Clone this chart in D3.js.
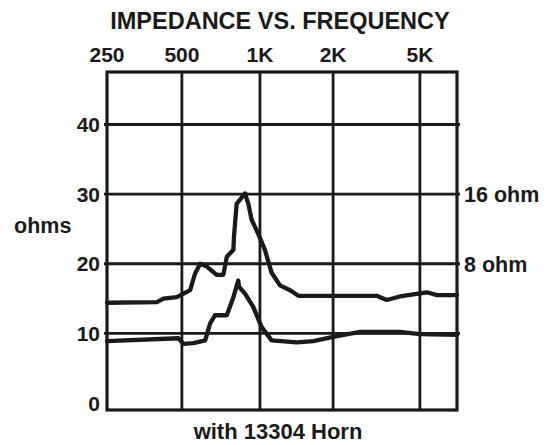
<!DOCTYPE html>
<html lang="en">
<head>
    <meta charset="UTF-8">
    <title>Impedance vs. Frequency</title>
    <script src="https://d3js.org/d3.v7.min.js"></script>
    <style>
        body { margin: 0; background: #fff; }
        text { font-family: "Liberation Sans", Arial, sans-serif; font-weight: bold; fill: #1a1a1a; }
    </style>
</head>
<body>
    <script>
        // frequency ticks along the top
        const freqTicks = [250, 500, 1000, 2000, 5000];
        const freqLabels = ["250", "500", "1K", "2K", "5K"];
        const ohmTicks = [0, 10, 20, 30, 40];

        // 16 ohm curve (Hz, ohms)
        const freq16 = [250, 397, 421, 477, 538, 562, 588, 624, 681, 722, 745, 790, 794, 813, 876, 902, 929, 985, 1048, 1117, 1209, 1330, 1439, 3169, 3521, 4050, 5360, 5963, 7300];
        const ohms16 = [14.4, 14.5, 15.0, 15.2, 16.2, 18.6, 20.0, 19.6, 18.4, 18.4, 21.0, 22.0, 23.9, 28.6, 30.1, 28.6, 26.3, 24.3, 22.0, 18.7, 16.9, 16.2, 15.4, 15.4, 14.8, 15.3, 15.9, 15.5, 15.5];

        // 8 ohm curve
        const freq8 = [250, 484, 507, 554, 615, 642, 671, 745, 790, 825, 830, 876, 942, 1016, 1117, 1417, 1659, 2000, 2658, 4050, 5000, 7300];
        const ohms8 = [8.9, 9.3, 8.5, 8.6, 9.0, 11.4, 12.6, 12.6, 15.2, 17.6, 16.7, 15.7, 13.8, 10.9, 9.0, 8.7, 8.9, 9.5, 10.2, 10.2, 9.9, 9.8];

        const rightLabels = [{ v: 30, t: "16 ohm" }, { v: 20, t: "8 ohm" }];

        const width = 556, height = 445;
        const pLeft = 107, pRight = 457, pTop = 72, pBottom = 410;
        const ink = "#1a1a1a";

        const svg = d3.select("body").append("svg")
            .attr("width", width)
            .attr("height", height);

        // the printed grid is not quite logarithmic, so the log scale is piecewise
        const stops = [0, 0.214, 0.437, 0.646, 0.894, 1];
        const x = d3.scaleLog()
            .domain([250, 500, 1000, 2000, 5000, 7300])
            .range(stops.map(s => pLeft + s * (pRight - pLeft)));

        const y = d3.scaleLinear()
            .domain([0, 40])
            .range([403, 124.5]);

        // grid
        svg.append("g").selectAll("line.h")
            .data(ohmTicks.filter(d => d > 0))
            .enter().append("line")
            .attr("x1", pLeft - 3).attr("x2", pRight + 3)
            .attr("y1", d => y(d)).attr("y2", d => y(d))
            .attr("stroke", ink).attr("stroke-width", 2.8);

        svg.append("g").selectAll("line.v")
            .data(freqTicks.slice(1))
            .enter().append("line")
            .attr("x1", d => x(d)).attr("x2", d => x(d))
            .attr("y1", pTop).attr("y2", pBottom)
            .attr("stroke", ink).attr("stroke-width", 2.8);

        svg.append("rect")
            .attr("x", pLeft).attr("y", pTop)
            .attr("width", pRight - pLeft).attr("height", pBottom - pTop)
            .attr("fill", "none").attr("stroke", ink).attr("stroke-width", 3.2);

        // curves
        const line = d3.line()
            .x(d => x(d[0]))
            .y(d => y(d[1]));

        [[freq16, ohms16], [freq8, ohms8]].forEach(([f, o]) => {
            svg.append("path")
                .datum(f.map((d, i) => [d, o[i]]))
                .attr("d", line)
                .attr("fill", "none")
                .attr("stroke", ink)
                .attr("stroke-width", 4.3)
                .attr("stroke-linejoin", "round")
                .attr("stroke-linecap", "round");
        });

        // labels
        svg.append("text")
            .attr("x", 280).attr("y", 29)
            .attr("text-anchor", "middle")
            .style("font-size", "23.5px")
            .text("IMPEDANCE VS. FREQUENCY");

        svg.append("g").selectAll("text")
            .data(freqTicks)
            .enter().append("text")
            .attr("x", d => x(d)).attr("y", 62)
            .attr("text-anchor", "middle")
            .style("font-size", "21px")
            .text((d, i) => freqLabels[i]);

        svg.append("g").selectAll("text")
            .data(ohmTicks)
            .enter().append("text")
            .attr("x", 100).attr("y", d => y(d) + 7.5)
            .attr("text-anchor", "end")
            .style("font-size", "21px")
            .text(d => d);

        svg.append("g").selectAll("text")
            .data(rightLabels)
            .enter().append("text")
            .attr("x", 464).attr("y", d => y(d.v) + 8)
            .style("font-size", "21.5px")
            .text(d => d.t);

        svg.append("text")
            .attr("x", 14).attr("y", 233)
            .style("font-size", "21.5px")
            .text("ohms");

        svg.append("text")
            .attr("x", 278).attr("y", 439)
            .attr("text-anchor", "middle")
            .style("font-size", "22px")
            .text("with 13304 Horn");
    </script>
</body>
</html>
